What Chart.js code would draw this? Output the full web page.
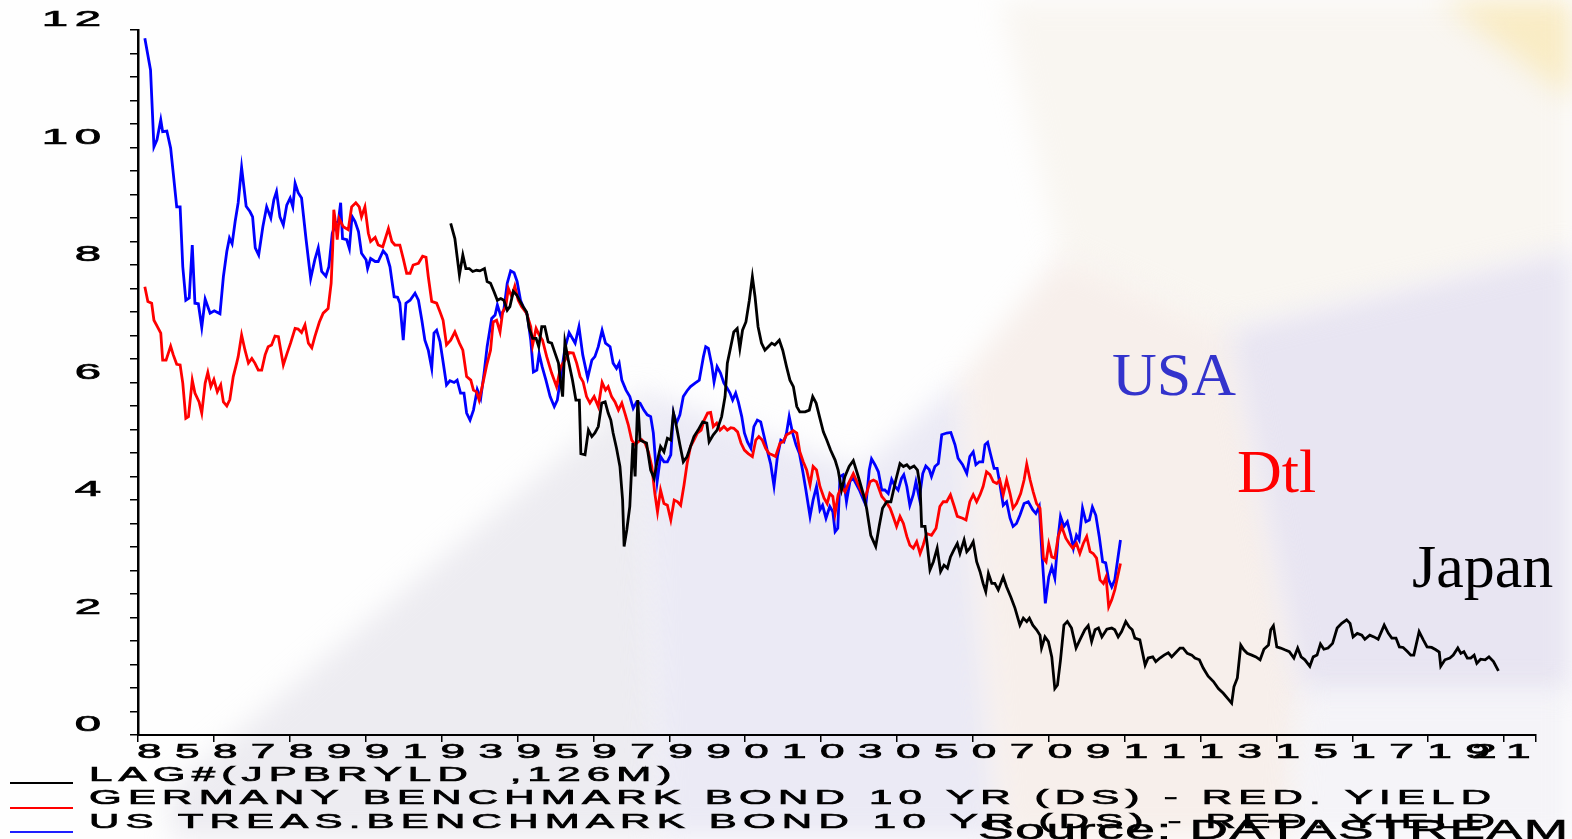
<!DOCTYPE html>
<html><head><meta charset="utf-8">
<script src="https://cdn.jsdelivr.net/npm/chart.js@4.4.0/dist/chart.umd.min.js"></script>
<style>html,body{margin:0;padding:0;background:#fff;overflow:hidden}#wrap{width:1572px;height:839px;position:relative}</style>
</head><body><div id="wrap"><canvas id="c" width="1572" height="839"></canvas></div>
<script>
// ---------- DATA ----------
const usYear=[1985.18,1985.33,1985.42,1985.50,1985.60,1985.65,1985.76,1985.86,1985.92,1986.02,1986.11,1986.18,1986.26,1986.35,1986.43,1986.50,1986.59,1986.68,1986.77,1986.90,
1987.01,1987.16,1987.25,1987.34,1987.41,1987.48,1987.56,1987.64,1987.73,1987.85,1987.95,1988.02,1988.09,1988.18,1988.29,1988.39,1988.50,1988.58,1988.65,1988.74,1988.83,1988.92,
1989.01,1989.08,1989.14,1989.22,1989.31,1989.43,1989.55,1989.66,1989.75,1989.84,1989.95,1990.03,1990.12,1990.22,1990.28,1990.34,1990.39,1990.50,1990.57,1990.64,1990.72,1990.81,1990.89,
1991.01,1991.05,1991.13,1991.25,1991.33,1991.46,1991.55,1991.64,1991.75,1991.84,1991.90,1991.99,1992.06,1992.17,1992.30,1992.39,1992.48,1992.56,1992.65,1992.74,1992.80,1992.87,1992.96,
1993.04,1993.13,1993.22,1993.33,1993.41,1993.50,1993.59,1993.66,1993.75,1993.84,1993.94,1994.03,1994.12,1994.20,1994.32,1994.41,1994.47,1994.56,1994.64,1994.73,1994.82,1994.91,1994.99,
1995.08,1995.17,1995.26,1995.35,1995.42,1995.51,1995.57,1995.65,1995.75,1995.86,1995.97,1996.05,1996.14,1996.25,1996.36,1996.45,1996.52,1996.62,1996.72,1996.85,1996.96,
1997.04,1997.13,1997.23,1997.32,1997.44,1997.52,1997.61,1997.68,1997.75,1997.86,1997.96,1998.05,1998.14,1998.23,1998.33,1998.42,1998.51,1998.58,1998.68,1998.77,1998.86,1998.95,
1999.04,1999.11,1999.19,1999.28,1999.37,1999.47,1999.56,1999.68,1999.79,1999.90,1999.96,2000.03,2000.12,2000.18,2000.26,2000.35,2000.44,2000.53,2000.60,2000.67,2000.75,2000.82,2000.91,2000.98,
2001.06,2001.15,2001.23,2001.32,2001.41,2001.50,2001.58,2001.67,2001.76,2001.85,2001.94,2002.02,2002.09,2002.16,2002.25,2002.34,2002.43,2002.52,2002.60,2002.71,2002.79,2002.88,2002.97,
2003.04,2003.13,2003.23,2003.31,2003.37,2003.44,2003.50,2003.58,2003.67,2003.76,2003.83,2003.92,2004.01,2004.10,2004.18,2004.27,2004.33,2004.42,2004.51,2004.60,2004.68,2004.77,2004.86,2004.95,
2005.03,2005.12,2005.18,2005.26,2005.34,2005.43,2005.50,2005.59,2005.68,2005.76,2005.85,2005.91,2006.00,2006.09,2006.18,2006.31,2006.42,2006.53,2006.61,2006.73,2006.84,2006.92,
2007.01,2007.08,2007.17,2007.26,2007.32,2007.39,2007.47,2007.56,2007.64,2007.71,2007.80,2007.89,2007.98,2008.06,2008.15,2008.24,2008.35,2008.46,2008.58,2008.66,2008.75,2008.82,2008.91,
2009.00,2009.08,2009.16,2009.25,2009.31,2009.40,2009.49,2009.58,2009.65,2009.73,2009.80,2009.89,2009.98,2010.07,2010.15,2010.24,2010.33,2010.42,2010.50,2010.58,2010.66,2010.74,2010.89];
const usYield=[11.86,11.32,10.01,10.13,10.47,10.27,10.28,9.99,9.62,8.99,8.99,7.97,7.40,7.44,8.34,7.35,7.34,6.94,7.42,7.18,
7.22,7.17,7.80,8.23,8.46,8.36,8.74,9.06,9.66,9.00,8.91,8.82,8.29,8.17,8.65,8.99,8.80,9.11,9.25,8.82,8.68,9.02,
9.14,8.99,9.39,9.23,9.14,8.43,7.77,8.09,8.29,7.89,7.81,7.97,8.54,8.72,8.74,9.06,8.45,8.43,8.28,8.83,8.74,8.57,8.20,
8.09,7.94,8.11,8.06,8.06,8.24,8.17,7.97,7.46,7.45,7.35,6.72,7.35,7.40,7.52,7.40,7.06,6.72,6.55,6.24,6.84,6.89,6.69,
6.35,5.96,6.03,6.00,6.04,5.82,5.82,5.48,5.36,5.53,5.88,5.73,6.16,6.61,7.09,7.15,7.32,7.13,7.23,7.69,7.90,7.87,7.72,
7.40,7.26,7.15,6.72,6.18,6.21,6.49,6.27,6.04,5.76,5.59,5.70,6.10,6.58,6.85,6.75,6.67,6.95,6.47,6.08,6.38,
6.44,6.61,6.89,6.67,6.61,6.33,6.24,6.33,6.04,5.87,5.76,5.56,5.67,5.65,5.53,5.45,5.42,5.14,4.31,4.74,4.65,4.65,
4.77,5.48,5.31,5.45,5.76,5.86,5.93,5.99,6.04,6.44,6.61,6.58,6.30,6.01,6.27,6.16,5.99,5.90,5.82,5.70,5.82,5.67,5.42,5.14,
4.99,4.88,5.25,5.36,5.33,5.08,4.85,4.62,4.24,4.74,5.02,4.99,5.14,5.42,5.14,4.94,4.79,4.48,4.17,3.72,4.00,4.23,3.83,
3.91,3.69,3.89,3.80,3.46,3.52,4.40,4.43,3.97,4.31,4.39,4.28,4.17,4.03,3.91,4.51,4.70,4.60,4.48,4.17,4.17,4.11,4.35,4.23,
4.17,4.37,4.43,4.23,3.91,4.09,4.31,4.03,4.45,4.58,4.52,4.40,4.57,4.62,5.11,5.14,5.15,4.94,4.71,4.60,4.45,4.74,
4.82,4.60,4.65,4.65,4.94,4.98,4.77,4.54,4.54,4.28,3.91,3.97,3.69,3.55,3.60,3.74,3.94,3.97,3.83,3.77,3.89,3.09,2.24,
2.69,2.86,2.67,3.38,3.72,3.55,3.63,3.40,3.18,3.40,3.32,3.86,3.63,3.66,3.88,3.74,3.38,2.95,2.93,2.64,2.52,2.64,3.32];

const deYear=[1985.18,1985.26,1985.36,1985.42,1985.51,1985.60,1985.65,1985.74,1985.86,1985.93,1986.02,1986.11,1986.18,1986.26,1986.33,1986.43,1986.50,1986.61,1986.68,1986.77,1986.84,1986.92,
1987.00,1987.09,1987.18,1987.25,1987.34,1987.42,1987.51,1987.60,1987.64,1987.73,1987.82,1987.91,1988.00,1988.08,1988.17,1988.26,1988.35,1988.43,1988.52,1988.61,1988.70,1988.83,1988.93,
1989.02,1989.14,1989.22,1989.31,1989.40,1989.49,1989.58,1989.66,1989.78,1989.88,1990.01,1990.09,1990.13,1990.16,1990.22,1990.25,1990.30,1990.41,1990.54,1990.63,1990.74,1990.83,1990.89,1990.98,
1991.07,1991.13,1991.25,1991.33,1991.45,1991.60,1991.69,1991.77,1991.90,1991.99,1992.08,1992.17,1992.25,1992.39,1992.50,1992.59,1992.65,1992.74,1992.87,1992.96,
1993.04,1993.13,1993.24,1993.35,1993.47,1993.56,1993.66,1993.77,1993.84,1993.92,1993.99,1994.07,1994.19,1994.29,1994.36,1994.45,1994.54,1994.61,1994.69,1994.76,1994.85,1994.93,
1995.02,1995.11,1995.24,1995.35,1995.40,1995.49,1995.57,1995.66,1995.77,1995.90,1996.03,1996.14,1996.25,1996.36,1996.47,1996.56,1996.65,1996.73,1996.82,1996.91,
1997.02,1997.13,1997.23,1997.32,1997.39,1997.48,1997.57,1997.66,1997.75,1997.83,1997.92,1998.01,1998.10,1998.18,1998.27,1998.36,1998.45,1998.54,1998.62,1998.69,1998.77,1998.86,1998.95,
1999.04,1999.13,1999.22,1999.30,1999.39,1999.47,1999.56,1999.65,1999.74,1999.84,1999.92,2000.01,2000.09,2000.16,2000.25,2000.34,2000.44,2000.53,2000.62,2000.70,2000.80,2000.89,2000.98,
2001.08,2001.19,2001.28,2001.36,2001.45,2001.54,2001.63,2001.71,2001.80,2001.92,2002.00,2002.09,2002.18,2002.27,2002.36,2002.44,2002.53,2002.62,2002.71,2002.79,2002.88,2002.97,
2003.08,2003.16,2003.23,2003.31,2003.37,2003.45,2003.54,2003.63,2003.72,2003.85,2004.02,2004.16,2004.29,2004.38,2004.46,2004.60,2004.68,2004.82,2004.90,2004.99,
2005.08,2005.17,2005.26,2005.34,2005.43,2005.52,2005.61,2005.69,2005.78,2005.91,2006.03,2006.13,2006.22,2006.31,2006.41,2006.50,2006.59,2006.73,2006.82,2006.92,
2007.01,2007.10,2007.19,2007.27,2007.36,2007.45,2007.54,2007.63,2007.71,2007.80,2007.89,2007.98,2008.06,2008.15,2008.26,2008.35,2008.42,2008.51,2008.59,2008.68,2008.77,2008.86,2008.93,
2009.00,2009.08,2009.16,2009.25,2009.34,2009.45,2009.54,2009.63,2009.73,2009.82,2009.91,2010.00,2010.09,2010.17,2010.26,2010.35,2010.44,2010.51,2010.58,2010.66,2010.74,2010.89];
const deYield=[7.63,7.38,7.35,7.06,6.95,6.84,6.38,6.38,6.62,6.47,6.31,6.30,5.99,5.39,5.42,6.04,5.82,5.67,5.48,5.99,6.17,5.93,
6.05,5.84,5.96,5.67,5.60,5.71,6.10,6.33,6.44,6.81,6.55,6.33,6.41,6.33,6.21,6.21,6.47,6.61,6.64,6.79,6.78,6.30,6.50,
6.67,6.92,6.91,6.85,6.98,6.67,6.59,6.78,7.03,7.18,7.26,7.69,8.28,8.94,8.65,8.43,8.79,8.65,8.60,8.99,9.06,8.99,8.82,8.99,
8.54,8.40,8.47,8.34,8.31,8.62,8.40,8.34,8.34,8.11,7.86,7.86,8.00,8.03,8.15,8.13,7.80,7.38,7.35,7.20,
7.06,6.64,6.72,6.86,6.67,6.55,6.10,6.04,5.87,5.84,5.70,5.93,6.30,6.55,7.03,7.06,6.86,7.20,7.29,7.60,7.46,7.64,
7.40,7.29,7.18,6.95,6.64,6.92,6.81,6.72,6.44,6.16,5.93,6.27,6.38,6.51,6.50,6.33,6.10,6.01,5.76,5.65,
5.76,5.59,6.00,5.87,5.93,5.76,5.67,5.53,5.65,5.48,5.28,5.02,4.94,4.99,5.03,4.97,4.82,4.57,4.11,3.80,4.17,3.94,3.91,
3.66,4.00,3.97,3.91,4.26,4.62,4.91,5.02,5.14,5.19,5.36,5.48,5.49,5.25,5.31,5.19,5.25,5.19,5.23,5.22,5.16,4.97,4.85,
4.79,4.74,5.02,5.08,5.02,4.88,4.79,4.77,4.74,4.97,4.99,5.11,5.14,5.18,5.14,4.82,4.65,4.51,4.26,4.57,4.51,4.23,
4.03,3.94,4.11,4.06,3.77,4.09,4.23,4.14,4.28,4.45,4.20,4.03,4.31,4.34,4.31,4.06,4.00,3.86,3.72,3.55,
3.72,3.60,3.38,3.23,3.18,3.29,3.09,3.23,3.43,3.40,3.52,3.89,3.97,3.97,4.09,3.91,3.72,3.69,3.66,3.97,
4.09,3.97,4.09,4.23,4.48,4.43,4.31,4.28,4.34,4.09,4.34,4.11,3.86,3.94,4.11,4.34,4.61,4.34,4.14,3.94,3.86,3.01,2.95,
3.25,3.03,3.01,3.38,3.55,3.35,3.26,3.18,3.26,3.09,3.26,3.38,3.12,3.09,3.01,2.64,2.58,2.69,2.18,2.30,2.47,2.92];

// Japan benchmark yield, lagged by 126 months (dates as plotted)
const jpYear=[1993.24,1993.35,1993.47,1993.56,1993.64,1993.73,1993.82,1993.92,1994.01,1994.13,1994.20,1994.29,1994.38,1994.47,1994.56,1994.64,1994.73,1994.80,1994.89,1994.98,
1995.07,1995.15,1995.24,1995.31,1995.40,1995.49,1995.56,1995.64,1995.72,1995.81,1995.90,1995.99,1996.08,1996.14,1996.19,1996.25,1996.34,1996.45,1996.54,1996.63,1996.67,1996.78,1996.87,1996.96,
1997.04,1997.13,1997.22,1997.31,1997.39,1997.46,1997.52,1997.61,1997.70,1997.77,1997.81,1997.88,1997.96,1998.04,1998.10,1998.17,1998.23,1998.32,1998.40,1998.51,1998.60,1998.67,1998.77,1998.86,1998.95,
1999.04,1999.11,1999.19,1999.28,1999.37,1999.47,1999.56,1999.65,1999.76,1999.88,1999.99,2000.05,2000.16,2000.26,2000.38,2000.47,2000.53,2000.62,2000.70,2000.79,2000.86,2000.93,
2001.02,2001.11,2001.19,2001.26,2001.34,2001.43,2001.52,2001.61,2001.70,2001.78,2001.90,2001.99,2002.09,2002.18,2002.27,2002.36,2002.44,2002.58,2002.69,2002.78,2002.87,2002.97,
2003.06,2003.15,2003.25,2003.37,2003.45,2003.54,2003.63,2003.74,2003.85,2003.98,2004.11,2004.20,2004.31,2004.44,2004.53,2004.62,2004.73,2004.84,2004.97,
2005.08,2005.17,2005.26,2005.34,2005.45,2005.54,2005.61,2005.65,2005.74,2005.80,2005.87,2005.96,2006.06,2006.15,2006.24,2006.33,2006.41,2006.50,2006.59,2006.66,2006.77,2006.84,2006.92,
2007.01,2007.10,2007.19,2007.27,2007.34,2007.41,2007.50,2007.58,2007.67,2007.80,2007.89,2008.00,2008.11,2008.24,2008.33,2008.42,2008.49,2008.58,2008.68,2008.77,2008.81,2008.90,2008.99,
2009.08,2009.16,2009.23,2009.31,2009.40,2009.49,2009.60,2009.72,2009.82,2009.95,2010.04,2010.13,2010.22,2010.31,2010.40,2010.53,2010.66,2010.74,2010.83,2010.92,
2011.03,2011.12,2011.20,2011.27,2011.40,2011.54,2011.62,2011.74,2011.82,2011.93,2012.04,2012.15,2012.24,2012.33,2012.46,2012.54,2012.65,2012.77,2012.85,2012.97,
2013.07,2013.20,2013.34,2013.47,2013.60,2013.73,2013.82,2013.88,2013.97,2014.06,2014.14,2014.23,2014.35,2014.46,2014.57,2014.67,2014.79,2014.85,2014.92,
2015.01,2015.11,2015.22,2015.34,2015.46,2015.56,2015.65,2015.75,2015.88,2015.97,2016.07,2016.16,2016.25,2016.36,2016.48,2016.60,2016.72,2016.85,2016.94,
2017.02,2017.13,2017.25,2017.33,2017.46,2017.57,2017.68,2017.84,2017.95,2018.04,2018.15,2018.24,2018.34,2018.45,2018.54,2018.62,2018.76,2018.87,2018.97,
2019.09,2019.20,2019.29,2019.33,2019.44,2019.57,2019.66,2019.78,2019.86,2019.94,2020.03,2020.12,2020.21,2020.28,2020.38,2020.50,2020.60,2020.72,2020.85];
const jpYield=[8.71,8.45,7.83,8.17,7.94,7.94,7.89,7.91,7.90,7.94,7.72,7.69,7.55,7.40,7.43,7.40,7.23,7.29,7.55,7.49,
7.38,7.29,7.20,6.92,6.75,6.75,6.61,6.95,6.95,6.69,6.67,6.50,6.33,5.99,5.76,6.69,6.38,6.04,5.70,5.70,4.79,4.77,5.19,5.08,
5.14,5.25,5.65,5.67,5.48,5.36,5.14,4.88,4.57,4.00,3.21,3.49,3.89,4.97,4.40,5.70,5.02,4.99,4.97,4.51,4.37,4.62,4.91,4.82,5.05,
5.02,5.48,5.25,4.94,4.65,4.74,4.91,5.08,5.19,5.33,5.31,4.99,5.11,5.19,5.42,5.76,6.33,6.61,6.86,6.92,6.58,6.89,
7.03,7.40,7.80,7.46,6.95,6.67,6.55,6.61,6.67,6.64,6.72,6.55,6.27,6.04,5.93,5.59,5.50,5.50,5.53,5.76,5.65,5.39,
5.16,5.02,4.85,4.68,4.51,4.17,4.40,4.57,4.67,4.40,4.11,3.86,3.40,3.21,3.55,3.86,3.97,3.97,4.34,
4.62,4.57,4.60,4.54,4.58,4.51,4.23,3.55,3.55,3.23,2.81,2.95,3.18,2.78,2.89,2.84,3.03,3.15,3.26,3.09,3.32,3.12,3.18,
3.29,2.95,2.78,2.58,2.44,2.75,2.58,2.58,2.47,2.69,2.52,2.35,2.16,1.87,1.99,1.93,1.99,1.87,1.79,1.70,1.48,1.67,1.59,
1.33,0.79,0.85,1.28,1.87,1.93,1.82,1.48,1.62,1.79,1.86,1.59,1.79,1.82,1.67,1.80,1.82,1.79,1.67,1.76,
1.93,1.84,1.79,1.65,1.62,1.19,1.31,1.33,1.25,1.31,1.36,1.40,1.33,1.39,1.48,1.48,1.39,1.36,1.31,1.28,
1.14,1.00,0.91,0.79,0.71,0.61,0.54,0.82,0.97,1.53,1.45,1.39,1.36,1.33,1.28,1.46,1.53,1.79,1.86,
1.50,1.48,1.45,1.42,1.31,1.48,1.33,1.28,1.17,1.33,1.36,1.55,1.46,1.48,1.56,1.82,1.90,1.96,1.90,
1.67,1.73,1.70,1.63,1.70,1.67,1.63,1.87,1.73,1.65,1.65,1.50,1.49,1.42,1.36,1.36,1.76,1.62,1.50,
1.49,1.45,1.41,1.17,1.28,1.31,1.36,1.48,1.39,1.42,1.31,1.31,1.36,1.22,1.29,1.28,1.33,1.25,1.09];

const seriesLabels=['LAG#(JPBRYLD  ,126M)','GERMANY BENCHMARK BOND 10 YR (DS) - RED. YIELD','US TREAS.BENCHMARK BOND 10 YR (DS) - RED. YIELD'];
const countryLabels=['USA','Dtl','Japan'];
const sourceText='Source: DATASTREAM';

const xMin=1985, xMax=2021.84;
const xTickYears=[1985,1987,1989,1991,1993,1995,1997,1999,2001,2003,2005,2007,2009,2011,2013,2015,2017,2019,2021];
const xTickLabels=['85','87','89','91','93','95','97','99','01','03','05','07','09','11','13','15','17','19','21'];
const yMin=0, yMax=12, yMinorStep=0.4;
const yLabelValues=[0,2,4,6,8,10,12];
const yTickLabels=['0','2','4','6','8','10','12'];
const yTickValues=[]; for(let k=0;k<=Math.round((yMax-yMin)/yMinorStep);k++) yTickValues.push(Math.round((yMin+k*yMinorStep)*100)/100);

// ---------- STYLE ----------
const SANS='"Liberation Sans", Arial, sans-serif';
const SERIF='"Liberation Serif", "Times New Roman", serif';
const colors={jp:'#000000', de:'#ff0000', us:'#0000ff'};

function toPts(xs,ys){return xs.map((x,i)=>({x:x,y:ys[i]}));}

function cw(ctx,c){return ctx.measureText(c).width;}
function glyph(ctx,c,x,y,sx,sw){
  ctx.save();ctx.translate(x,y);ctx.scale(sx,1);
  ctx.fillText(c,0,0);
  if(sw){ctx.lineWidth=sw;ctx.strokeText(c,0,0);}
  ctx.restore();
}
function drawSpaced(ctx,text,x,y,sx,ls,sw){
  let cx=x;
  for(const c of text){glyph(ctx,c,cx,y,sx,sw);cx+=cw(ctx,c)*sx+ls;}
}
function spacedWidth(ctx,text,sx,ls){let w=0;for(const c of text)w+=cw(ctx,c)*sx+ls;return w-ls;}
function drawPitch(ctx,text,x,y,sx,pitch,sw){
  let i=0;
  for(const c of text){glyph(ctx,c,x+i*pitch,y,sx,sw);i++;}
}

const bgPlugin={id:'bg',beforeDraw(chart){
  const c=chart.ctx;c.save();
  c.fillStyle='#fefefe';c.fillRect(0,0,chart.width,chart.height);
  const polys=[
    ['rgba(240,228,212,0.30)',[[1000,0],[1572,0],[1572,250],[1230,330],[1060,255]]],
    ['rgba(250,228,160,0.55)',[[1440,0],[1572,0],[1572,100]]],
    ['rgba(214,211,224,0.42)',[[170,839],[170,790],[640,390],[660,839]]],
    ['rgba(212,210,236,0.45)',[[640,390],[860,470],[960,380],[1000,839],[660,839]]],
    ['rgba(240,222,212,0.45)',[[960,380],[1060,255],[1230,330],[1300,690],[1290,839],[1000,839]]],
    ['rgba(214,208,232,0.55)',[[1230,330],[1572,250],[1572,690],[1300,690]]],
    ['rgba(225,222,235,0.30)',[[1290,839],[1300,690],[1572,690],[1572,839]]]
  ];
  c.filter='blur(14px)';
  for(const [col,pts] of polys){
    c.beginPath();c.moveTo(pts[0][0],pts[0][1]);
    for(let i=1;i<pts.length;i++)c.lineTo(pts[i][0],pts[i][1]);
    c.closePath();c.fillStyle=col;c.fill();
  }
  c.filter='none';
  c.restore();
}};

const textPlugin={id:'texts',afterDraw(chart){
  const c=chart.ctx, xs=chart.scales.x, ys=chart.scales.y;
  c.save();c.fillStyle='#000';c.strokeStyle='#000';c.textBaseline='alphabetic';
  // y tick labels
  c.font='22px '+SANS;
  const ySx=2.15, yPitch=33;
  yLabelValues.forEach((v,i)=>{
    const t=yTickLabels[i];const py=ys.getPixelForValue(v);
    const last=t[t.length-1];
    const x0=xs.left-37-(t.length-1)*yPitch-cw(c,last)*ySx;
    drawPitch(c,t,x0,py-4,ySx,yPitch,0.7);
  });
  // x tick labels
  c.font='21px '+SANS;
  const xSx=2.1;
  xTickYears.forEach((yr,i)=>{
    let start=xs.getPixelForValue(yr);
    let pitch=(xs.getPixelForValue(yr+2)-start)/2;
    if(start+2*pitch>xs.right+2){pitch=34;start=xs.right-63;}
    drawPitch(c,xTickLabels[i],start-1,758,xSx,pitch,0.7);
  });
  // legend
  c.font='21px '+SANS;
  const lSx=2.0;
  const ls=(1402-spacedWidth(c,seriesLabels[1],lSx,0))/(seriesLabels[1].length-1);
  const rows=[781,804,828], lineY=[783,808,832], cols=[colors.jp,colors.de,'#2020ff'];
  seriesLabels.forEach((t,i)=>{
    c.fillStyle='#000';c.strokeStyle='#000';drawSpaced(c,t,89,rows[i],lSx,ls,0.7);
    c.strokeStyle=cols[i];c.lineWidth=2;c.beginPath();c.moveTo(10,lineY[i]);c.lineTo(73,lineY[i]);c.stroke();
  });
  // source
  c.font='28px '+SANS;c.fillStyle='#000';c.strokeStyle='#000';
  const sSx=1.9;
  const sls=(590-spacedWidth(c,sourceText,sSx,0))/(sourceText.length-1);
  drawSpaced(c,sourceText,978,839,sSx,sls,0.6);
  // country labels
  c.font='62px '+SERIF;
  c.fillStyle='#3333cc';c.fillText(countryLabels[0],1112,395);
  c.fillStyle='#ff0000';c.fillText(countryLabels[1],1237,492);
  c.fillStyle='#000000';c.fillText(countryLabels[2],1412,587);
  c.restore();
}};

new Chart(document.getElementById('c').getContext('2d'),{
  type:'line',
  data:{datasets:[
    {label:seriesLabels[2],data:toPts(usYear,usYield),borderColor:colors.us,order:3},
    {label:seriesLabels[1],data:toPts(deYear,deYield),borderColor:colors.de,order:2},
    {label:seriesLabels[0],data:toPts(jpYear,jpYield),borderColor:colors.jp,order:1}
  ]},
  options:{
    responsive:false,animation:false,devicePixelRatio:1,
    layout:{padding:{left:130,right:36,top:30,bottom:97}},
    plugins:{legend:{display:false},tooltip:{enabled:false}},
    elements:{point:{radius:0,hoverRadius:0},line:{tension:0,borderWidth:2.8,fill:false}},
    scales:{
      x:{type:'linear',min:xMin,max:xMax,
         afterBuildTicks:s=>{s.ticks=xTickYears.concat([xMax]).map(v=>({value:v}));},
         ticks:{display:false},
         grid:{drawOnChartArea:false,drawTicks:true,tickLength:7,color:'#000',lineWidth:1.5},
         border:{display:true,color:'#000',width:2}},
      y:{type:'linear',min:yMin,max:yMax,
         afterBuildTicks:s=>{s.ticks=yTickValues.map(v=>({value:v}));},
         ticks:{display:false},
         grid:{drawOnChartArea:false,drawTicks:true,tickLength:8,color:'#000',lineWidth:1.5},
         border:{display:true,color:'#000',width:2.5}}
    }
  },
  plugins:[bgPlugin,textPlugin]
});
</script></body></html>
